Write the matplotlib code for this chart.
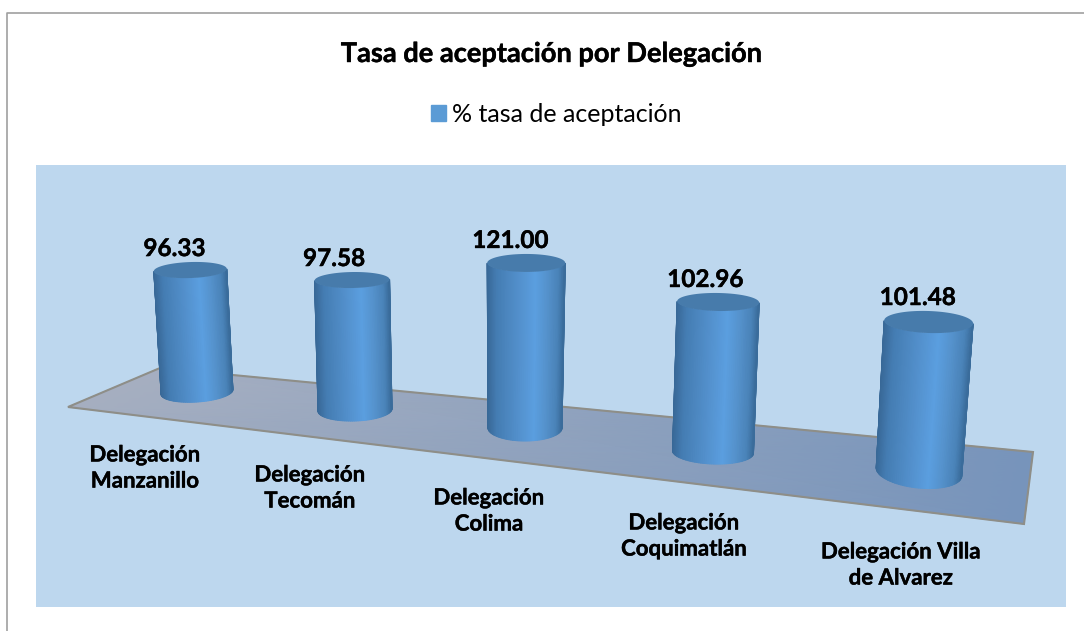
import numpy as np
import matplotlib
matplotlib.use('Agg')
import matplotlib.pyplot as plt
import matplotlib.patheffects as pe
from matplotlib.colors import LinearSegmentedColormap
from matplotlib.patches import Patch, Polygon, Rectangle

plt.rcParams['font.family'] = ['Lato', 'DejaVu Sans']

# chart data
categorias = ['Delegación\nManzanillo', 'Delegación\nTecomán', 'Delegación\nColima',
              'Delegación\nCoquimatlán', 'Delegación Villa\nde Alvarez']
tasa = [96.33, 97.58, 121.00, 102.96, 101.48]

# perspective layout, pixels of the picture
base_x = [197, 355, 525, 713, 919]
base_y = [392, 410, 428, 452, 472]
base_w = [36, 37, 37, 40.5, 43]
top_w = [36.5, 37.5, 39, 41, 44.5]
base_rh = [10, 11, 13, 12, 16]
top_rh = [8, 8, 9, 9, 11]
px_per_unit = [1.266, 1.332, 1.364, 1.457, 1.478]
lean = [-7, -3, 1, 5, 9.5]
tilt_base = [-4, -2, 0, 2, 6]
tilt_top = [-2, -1, 0, 1, 2]
label_dx = [-16, -18, -16, -13, -11]
cat_x = [145, 310, 489, 684, 901]
cat_y = [468, 488, 511, 536, 565]
floor = [(68, 407), (160, 368), (1033, 452), (1024, 524)]

body_cmap = LinearSegmentedColormap.from_list('body', [
    (0, '#396998'), (0.12, '#457db3'), (0.45, '#5593d0'), (0.62, '#5b9fe0'),
    (0.78, '#5592cc'), (0.92, '#4a83b8'), (1, '#3a6c9b')])
floor_cmap = LinearSegmentedColormap.from_list('floor', ['#a6afc1', '#7794bb'])
heavy = [pe.withStroke(linewidth=0.3, foreground='black')]


def ellipse(cx, cy, rw, rh, deg, t):
    a = np.radians(deg)
    x = rw * np.cos(t)
    y = rh * np.sin(t)
    return cx + x * np.cos(a) - y * np.sin(a), cy + x * np.sin(a) + y * np.cos(a)


fig = plt.figure(figsize=(10.84, 6.31), dpi=100)
ax = fig.add_axes([0, 0, 1, 1])
ax.set_xlim(0, 1084)
ax.set_ylim(631, 0)
ax.axis('off')

# chart frame and plot panel
ax.plot([6.5, 6.5, 1084], [631, 12.5, 12.5], color='#a0a0a0', lw=1.2)
ax.add_patch(Rectangle((36, 165), 1030, 441.5, color='#bdd7ee', lw=0))

# floor
fx = np.array([[floor[0][0], floor[3][0]], [floor[1][0], floor[2][0]]], dtype=float)
fy = np.array([[floor[0][1], floor[3][1]], [floor[1][1], floor[2][1]]], dtype=float)
ax.pcolormesh(fx, fy, np.array([[0.0, 1.0], [0.0, 1.0]]), cmap=floor_cmap, shading='gouraud', zorder=2)
ax.add_patch(Polygon(floor, closed=True, fill=False, ec='#8e8e88', lw=1.5, zorder=3))

# cylinders
t_front = np.linspace(np.pi, 0, 60)
t_all = np.linspace(0, 2 * np.pi, 90)
for i, v in enumerate(tasa):
    h = v * px_per_unit[i]
    top_x = base_x[i] + lean[i] * v / 100
    top_y = base_y[i] - h
    xb, yb = ellipse(base_x[i], base_y[i], base_w[i], base_rh[i], tilt_base[i], t_front)
    xt, yt = ellipse(top_x, top_y, top_w[i], top_rh[i], tilt_top[i], t_front)
    X = np.vstack([xb, xt])
    Y = np.vstack([yb, yt])
    u = (np.cos(t_front) + 1) / 2
    C = np.vstack([u, u])
    ax.pcolormesh(X, Y, C, cmap=body_cmap, vmin=0, vmax=1, shading='gouraud', zorder=4)
    xe, ye = ellipse(top_x, top_y, top_w[i], top_rh[i], tilt_top[i], t_all)
    ax.fill(xe, ye, color='#477bab', lw=0, zorder=5)
    ax.text(top_x + label_dx[i], top_y - top_rh[i] - 2, '%.2f' % v, ha='center', va='bottom',
            fontsize=17.5, fontweight='bold', color='black', zorder=6, path_effects=heavy)

for lab, x, y in zip(categorias, cat_x, cat_y):
    ax.text(x, y, lab, ha='center', va='center', fontsize=16, fontweight='bold',
            color='black', linespacing=1.3, zorder=6, path_effects=heavy)

ax.text(551, 54, 'Tasa de aceptación por Delegación', ha='center', va='center',
        fontsize=19.6, fontweight='bold', color='black', path_effects=heavy)
ax.legend(handles=[Patch(color='#5b9bd5', label='% tasa de aceptación')], loc='center',
          bbox_to_anchor=(556, 114), bbox_transform=ax.transData, frameon=False,
          fontsize=18, handlelength=0.6, handleheight=0.6, handletextpad=0.25)

fig.savefig('out.png', dpi=100)
